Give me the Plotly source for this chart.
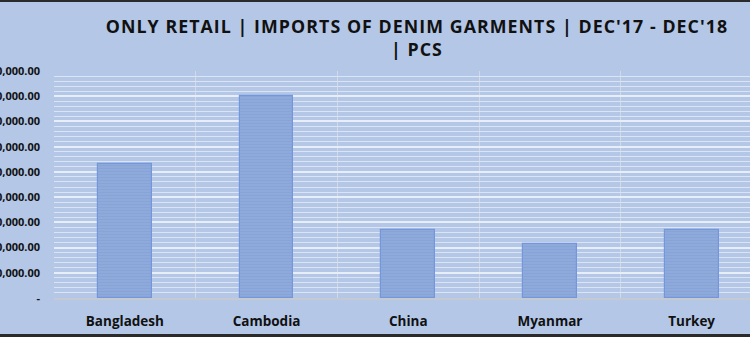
import plotly.graph_objects as go

categories = ["Bangladesh", "Cambodia", "China", "Myanmar", "Turkey"]
pcs = [5320000, 8000000, 2710000, 2130000, 2700000]
y_tickvals = [0, 1000000, 2000000, 3000000, 4000000, 5000000, 6000000, 7000000, 8000000, 9000000]
y_ticktext = ["-"] + [f"{v:,.2f}" for v in y_tickvals[1:]]
title_lines = ["ONLY RETAIL | IMPORTS OF DENIM GARMENTS | DEC'17 - DEC'18", "| PCS"]

BG = "#b4c7e7"
FONT = "Open Sans"

x_pos = list(range(len(categories)))

fig = go.Figure()
fig.add_trace(go.Bar(
    x=x_pos, y=pcs, width=0.38,
    marker=dict(
        color="#8eaadb",
        line=dict(color="#7396dc", width=1.2),
        pattern=dict(shape="-", fillmode="overlay", bgcolor="#8eaadb",
                     fgcolor="#7f9cd6", size=3, solidity=0.35),
    ),
    hoverinfo="skip",
))

title_text = "<br>".join(
    f'<span style="letter-spacing:1.05px">{t}</span>' for t in title_lines
)

H_PLOT = 227.0
fig.update_layout(
    width=750, height=337,
    margin=dict(l=54, r=0, t=71, b=39, autoexpand=False),
    paper_bgcolor=BG, plot_bgcolor=BG,
    showlegend=False,
    bargap=0,
    title=dict(
        text=title_text,
        font=dict(family=FONT, size=17.8, color="#111111", weight="bold"),
        x=0.556, xanchor="center", xref="container",
        y=1 - 33 / 337, yanchor="middle", yref="container",
    ),
    xaxis=dict(
        range=[-0.5, 4.412],
        tickvals=x_pos, ticktext=categories,
        tickfont=dict(family=FONT, size=13.5, color="#111111", weight="bold"),
        showgrid=False, zeroline=False, automargin=False,
        showline=True, linecolor="#c4c9d2", linewidth=1.5,
        ticks="", ticklabelstandoff=10,
        minor=dict(tick0=0.5, dtick=1, showgrid=True, gridcolor="#d2d9e6", gridwidth=1.2),
    ),
    yaxis=dict(
        range=[0, 9000000],
        tickvals=y_tickvals, ticktext=y_ticktext,
        tickfont=dict(family=FONT, size=11, color="#111111", weight="bold"),
        showgrid=True, gridcolor="#e8eef8", gridwidth=1.5,
        zeroline=False, ticks="", ticklabelstandoff=13, automargin=False,
        minor=dict(dtick=200000, showgrid=True, gridcolor="#dbe4f3", gridwidth=1.2),
    ),
    shapes=[
        dict(type="rect", xref="paper", yref="paper",
             x0=-0.2, x1=1.1, y0=1 + 69 / H_PLOT, y1=1 + 72 / H_PLOT,
             fillcolor="#2b2b2b", line=dict(width=0), layer="above"),
        dict(type="rect", xref="paper", yref="paper",
             x0=-0.2, x1=1.1, y0=-40 / H_PLOT, y1=-36 / H_PLOT,
             fillcolor="#2b2b2b", line=dict(width=0), layer="above"),
    ],
)

fig.write_html("out.html")
